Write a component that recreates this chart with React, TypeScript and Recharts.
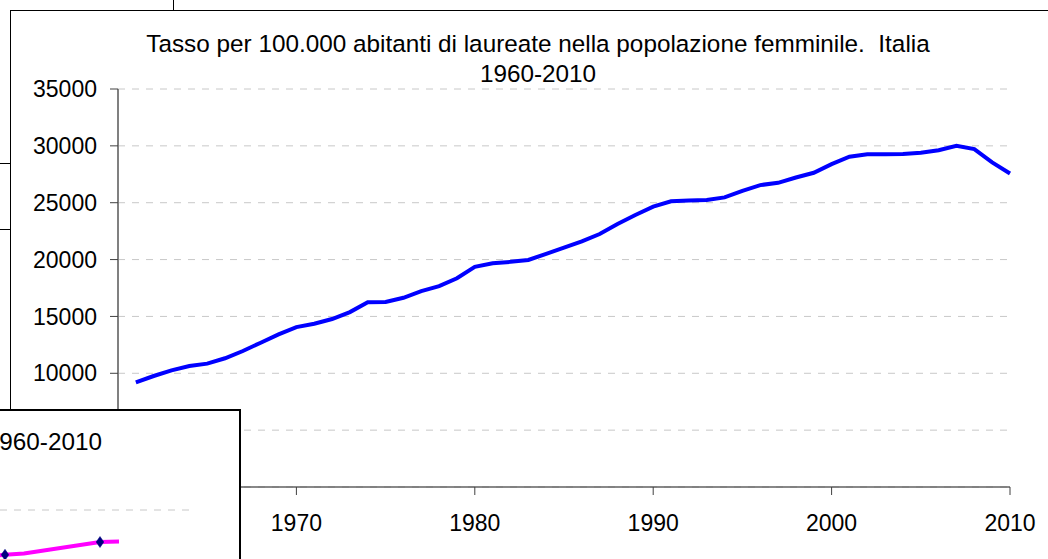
import React from 'react';
import { LineChart, Line, XAxis, YAxis, CartesianGrid, ComposedChart } from 'recharts';

const FONT = '"Liberation Sans", Arial, Helvetica, sans-serif';

const titleLine1 = 'Tasso per 100.000 abitanti di laureate nella popolazione femminile.  Italia';
const titleLine2 = '1960-2010';

const years = [
  1961, 1962, 1963, 1964, 1965, 1966, 1967, 1968, 1969, 1970,
  1971, 1972, 1973, 1974, 1975, 1976, 1977, 1978, 1979, 1980,
  1981, 1982, 1983, 1984, 1985, 1986, 1987, 1988, 1989, 1990,
  1991, 1992, 1993, 1994, 1995, 1996, 1997, 1998, 1999, 2000,
  2001, 2002, 2003, 2004, 2005, 2006, 2007, 2008, 2009, 2010,
];
const rates = [
  9200, 9760, 10260, 10640, 10850, 11320, 11960, 12690, 13420, 14060,
  14360, 14770, 15380, 16250, 16270, 16640, 17220, 17660, 18360, 19360,
  19680, 19800, 19970, 20500, 21050, 21600, 22250, 23130, 23920, 24650,
  25120, 25200, 25240, 25470, 26050, 26550, 26750, 27220, 27630, 28390,
  29040, 29270, 29270, 29280, 29390, 29620, 30000, 29710, 28540, 27570,
];
const yTicks = [0, 5000, 10000, 15000, 20000, 25000, 30000, 35000];
const xTicks = [1960, 1970, 1980, 1990, 2000, 2010];
// tick labels that lie behind the front window
const hiddenYLabels = [0, 5000];
const hiddenXLabels = [1960];

// partially hidden chart window in front (bottom-left)
const overlayTitle = '960-2010';
const ovX = [-1, 0, 1, 5, 6];
const ovMagenta = [34.2, 34.4, 34.55, 36, 36.05];
const ovMarkerX = [0, 5];
const ovMarkerY = [34.4, 36];
const ovYTicks = [30, 40];

const mainData = years.map((y, i) => ({ year: y, rate: rates[i] }));
const ovData = ovX.map((x, i) => ({ x, m: ovMagenta[i] }));
const ovMarkers = ovMarkerX.map((x, i) => ({ x, d: ovMarkerY[i] }));

const Diamond = (props: any) => {
  const { cx, cy, index } = props;
  if (cx == null || cy == null) return <g key={index} />;
  return (
    <polygon
      key={index}
      points={`${cx},${cy - 5.5} ${cx + 3.8},${cy} ${cx},${cy + 5.5} ${cx - 3.8},${cy}`}
      fill="#000080"
      stroke="#000080"
      strokeWidth={0.5}
    />
  );
};

export default function App() {
  return (
    <div
      style={{
        position: 'absolute',
        left: 0,
        top: 0,
        width: 1048,
        height: 559,
        overflow: 'hidden',
        background: '#fff',
        fontFamily: FONT,
      }}
    >
      {/* background windows edges */}
      <div style={{ position: 'absolute', left: 173, top: 0, width: 1, height: 10, background: '#000' }} />
      <div style={{ position: 'absolute', left: 0, top: 163, width: 10, height: 1, background: '#000' }} />
      <div style={{ position: 'absolute', left: 0, top: 229, width: 10, height: 1, background: '#000' }} />

      {/* main chart frame */}
      <div
        style={{
          position: 'absolute',
          left: 10,
          top: 10,
          width: 1100,
          height: 600,
          borderLeft: '1px solid #000',
          borderTop: '1px solid #000',
          background: '#fff',
        }}
      />

      <div
        style={{
          position: 'absolute',
          left: 0,
          top: 32,
          width: 1076,
          textAlign: 'center',
          fontSize: 24.3,
          lineHeight: '24px',
          whiteSpace: 'pre',
          color: '#000',
        }}
      >
        {titleLine1}
      </div>
      <div
        style={{
          position: 'absolute',
          left: 0,
          top: 62,
          width: 1076,
          textAlign: 'center',
          fontSize: 24.3,
          lineHeight: '24px',
          whiteSpace: 'pre',
          color: '#000',
        }}
      >
        {titleLine2}
      </div>

      <div style={{ position: 'absolute', left: 0, top: 0 }}>
        <LineChart
          width={1048}
          height={559}
          data={mainData}
          margin={{ top: 89, right: 38, bottom: 32, left: 18 }}
        >
          <CartesianGrid vertical={false} stroke="#c8c8c8" strokeDasharray="7 7" />
          <XAxis
            dataKey="year"
            type="number"
            domain={[1960, 2010]}
            ticks={xTicks}
            interval={0}
            height={40}
            tickSize={8}
            tickMargin={20}
            tickFormatter={(v: number) => (hiddenXLabels.includes(v) ? '' : String(v))}
            tick={{ fill: '#000', fontSize: 23, fontFamily: FONT }}
            axisLine={{ stroke: '#606060', strokeWidth: 1.5 }}
            tickLine={{ stroke: '#404040' }}
          />
          <YAxis
            type="number"
            domain={[0, 35000]}
            ticks={yTicks}
            interval={0}
            width={100}
            tickSize={8}
            tickMargin={13}
            tickFormatter={(v: number) => (hiddenYLabels.includes(v) ? '' : String(v))}
            tick={{ fill: '#000', fontSize: 23, fontFamily: FONT }}
            axisLine={{ stroke: '#808080', strokeWidth: 2 }}
            tickLine={{ stroke: '#404040' }}
          />
          <Line
            type="linear"
            dataKey="rate"
            stroke="#0000ff"
            strokeWidth={4}
            dot={false}
            isAnimationActive={false}
          />
        </LineChart>
      </div>

      {/* front window (bottom-left) */}
      <div
        style={{
          position: 'absolute',
          left: -2,
          top: 409,
          width: 243,
          height: 170,
          boxSizing: 'border-box',
          border: '2px solid #000',
          background: '#fff',
          overflow: 'hidden',
        }}
      >
        <div
          style={{
            position: 'absolute',
            right: 137,
            top: 19,
            fontSize: 24.3,
            lineHeight: '24px',
            whiteSpace: 'pre',
            color: '#000',
          }}
        >
          {overlayTitle}
        </div>
        <div style={{ position: 'absolute', left: -14, top: 94 }}>
          <ComposedChart
            width={209}
            height={85}
            data={ovData}
            margin={{ top: 5, right: 0, bottom: 0, left: 0 }}
          >
            <CartesianGrid vertical={false} stroke="#c8c8c8" strokeDasharray="7 7" />
            <XAxis dataKey="x" type="number" domain={[-1, 10]} hide allowDataOverflow />
            <YAxis type="number" domain={[30, 40]} ticks={ovYTicks} hide />
            <Line
              data={ovMarkers}
              dataKey="d"
              stroke="none"
              dot={Diamond}
              activeDot={false}
              isAnimationActive={false}
            />
            <Line
              type="linear"
              dataKey="m"
              stroke="#ff00ff"
              strokeWidth={4}
              dot={false}
              isAnimationActive={false}
            />
          </ComposedChart>
        </div>
      </div>
    </div>
  );
}
